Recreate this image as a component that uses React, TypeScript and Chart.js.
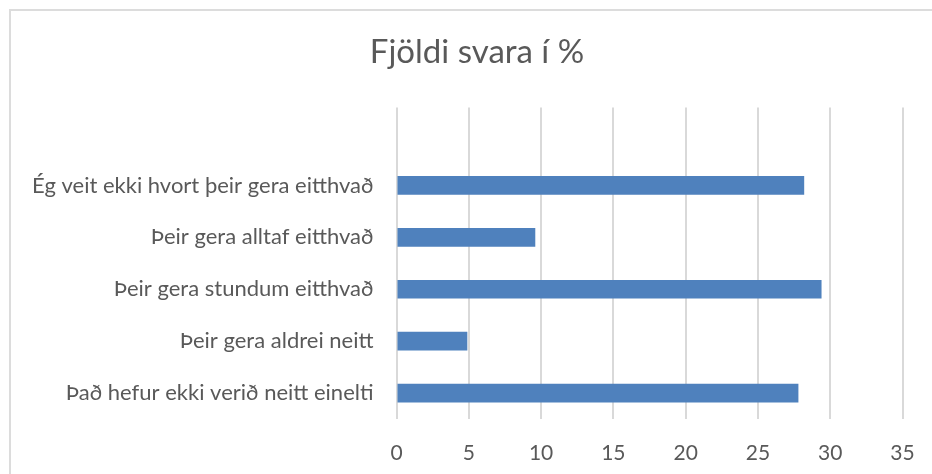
import React, { useEffect, useRef } from "react";
import { Chart, registerables } from "chart.js";

Chart.register(...registerables);

const titleText = "Fjöldi svara í %";
const categories = [
  "",
  "Ég veit ekki hvort þeir gera eitthvað",
  "Þeir gera alltaf eitthvað",
  "Þeir gera stundum eitthvað",
  "Þeir gera aldrei neitt",
  "Það hefur ekki verið neitt einelti",
];
const values = [null, 28.2, 9.6, 29.4, 4.9, 27.8];
const xMin = 0;
const xMax = 35;
const xStep = 5;

export default function App() {
  const ref = useRef<HTMLCanvasElement | null>(null);
  useEffect(() => {
    if (!ref.current) return;
    const font = "Lato, 'Open Sans', sans-serif";
    const chart = new Chart(ref.current, {
      type: "bar",
      data: {
        labels: categories,
        datasets: [
          {
            data: values as any,
            backgroundColor: "#4f81bd",
            borderWidth: 0,
            categoryPercentage: 0.36,
            barPercentage: 1,
          },
        ],
      },
      options: {
        indexAxis: "y",
        animation: false,
        responsive: false,
        maintainAspectRatio: false,
        layout: { padding: 0 },
        plugins: {
          legend: { display: false },
          tooltip: { enabled: false },
          title: {
            display: true,
            text: titleText,
            color: "#595959",
            font: { family: font, size: 33, weight: "normal" as any },
            padding: { top: 22, bottom: 35 },
          },
        },
        scales: {
          x: {
            min: xMin,
            max: xMax,
            ticks: {
              stepSize: xStep,
              color: "#595959",
              font: { family: font, size: 21 },
              padding: 22,
            },
            grid: { color: "#d9d9d9", lineWidth: 2, drawTicks: false },
            border: { display: false },
            afterFit: (s: any) => {
              s.height = 62;
              s.paddingRight = 40.5;
            },
          },
          y: {
            ticks: {
              color: "#595959",
              font: { family: font, size: 22 },
              padding: 23,
            },
            grid: { display: false, drawTicks: false },
            border: { display: false },
            afterFit: (s: any) => {
              s.width = 385.5;
            },
          },
        },
      },
    });
    return () => chart.destroy();
  }, []);
  return (
    <div
      style={{
        position: "absolute",
        left: 9,
        top: 9,
        width: 936,
        height: 474,
        border: "2px solid #dcdcdc",
        boxSizing: "border-box",
        background: "#fff",
      }}
    >
      <canvas ref={ref} width={932} height={470} style={{ display: "block" }} />
    </div>
  );
}
